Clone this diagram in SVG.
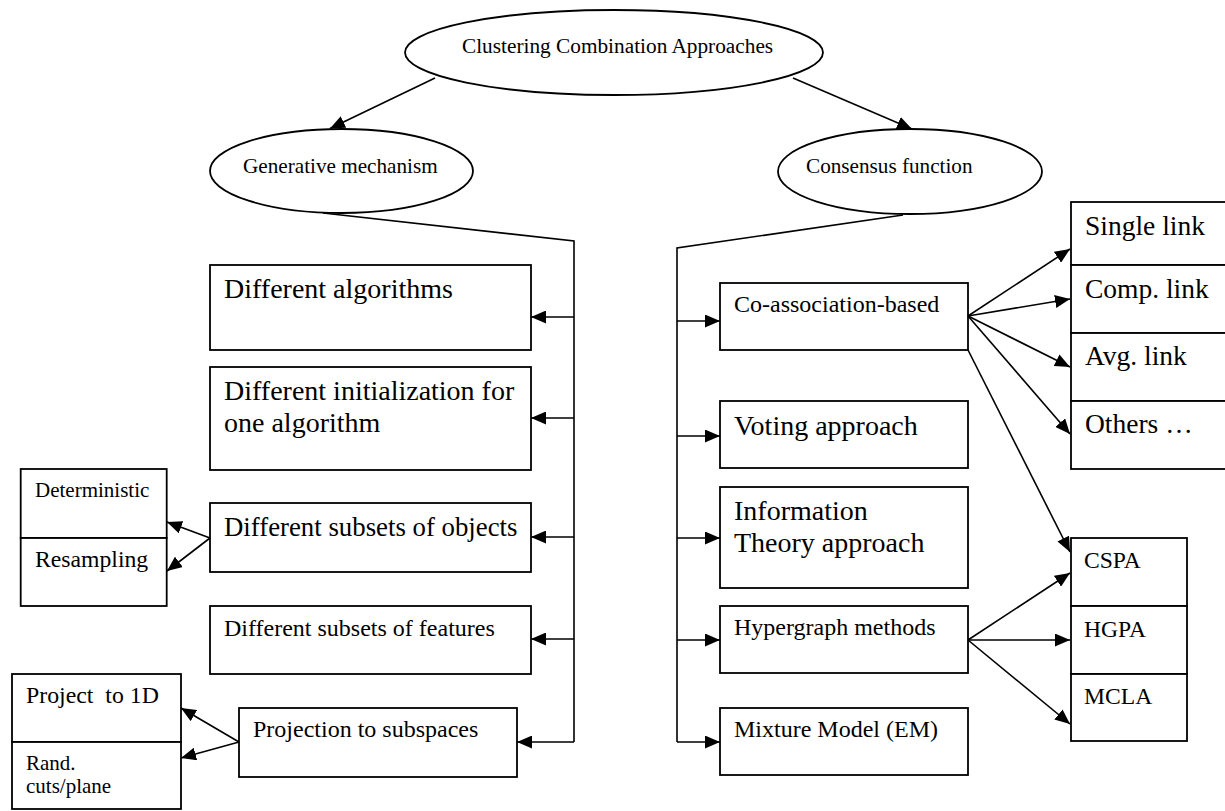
<svg xmlns="http://www.w3.org/2000/svg" width="1225" height="811" viewBox="0 0 1225 811">
<style>
.box{fill:#fff;stroke:#000;stroke-width:1.8}
.ell{fill:#fff;stroke:#000;stroke-width:1.8}
.ln{fill:none;stroke:#000;stroke-width:1.6}
.t{font-family:"Liberation Serif","Times New Roman",serif;fill:#000}
</style>
<defs>
<marker id="ah" markerUnits="userSpaceOnUse" markerWidth="15" markerHeight="13" refX="15" refY="6.5" orient="auto">
<path d="M0,0 L15,6.5 L0,13 z" fill="#000"/>
</marker>
</defs>
<rect width="1225" height="811" fill="#fff"/>

<g id="root">
<ellipse class="ell" cx="614" cy="52.5" rx="209" ry="42.5"/>
<text class="t" x="462" y="53" font-size="21.3">Clustering Combination Approaches</text>
</g>
<g id="generative">
<ellipse class="ell" cx="341.5" cy="171" rx="131.5" ry="42"/>
<text class="t" x="243" y="173" font-size="21.2">Generative mechanism</text>
</g>
<g id="consensus">
<ellipse class="ell" cx="910" cy="171.5" rx="132" ry="42.5"/>
<text class="t" x="806" y="173" font-size="21.2">Consensus function</text>
</g>

<g id="diff-algorithms">
<rect class="box" x="210" y="265" width="321" height="85"/>
<text class="t" x="224" y="298" font-size="28">Different algorithms</text>
</g>
<g id="diff-init">
<rect class="box" x="210" y="367" width="321" height="103"/>
<text class="t" x="224" y="400" font-size="28">Different initialization for</text>
<text class="t" x="224" y="432" font-size="28">one algorithm</text>
</g>
<g id="diff-objects">
<rect class="box" x="210" y="503" width="321" height="69"/>
<text class="t" x="224" y="536" font-size="26.8">Different subsets of objects</text>
</g>
<g id="diff-features">
<rect class="box" x="210" y="606" width="321" height="68"/>
<text class="t" x="224" y="636" font-size="24">Different subsets of features</text>
</g>
<g id="projection">
<rect class="box" x="239" y="708" width="278" height="69"/>
<text class="t" x="253" y="737" font-size="24">Projection to subspaces</text>
</g>
<g id="deterministic">
<rect class="box" x="20.7" y="469" width="146" height="69"/>
<text class="t" x="35" y="497" font-size="21">Deterministic</text>
</g>
<g id="resampling">
<rect class="box" x="20.7" y="538" width="146" height="68"/>
<text class="t" x="35" y="567" font-size="23.7">Resampling</text>
</g>
<g id="project1d">
<rect class="box" x="12" y="674" width="169" height="68"/>
<text class="t" x="26" y="703" font-size="23.8" xml:space="preserve">Project  to 1D</text>
</g>
<g id="randcuts">
<rect class="box" x="12" y="742" width="169" height="67"/>
<text class="t" x="26" y="770" font-size="21">Rand.</text>
<text class="t" x="26" y="793" font-size="21">cuts/plane</text>
</g>

<g id="coassoc">
<rect class="box" x="720" y="283" width="248" height="67"/>
<text class="t" x="734" y="312" font-size="24">Co-association-based</text>
</g>
<g id="voting">
<rect class="box" x="720" y="401" width="248" height="67"/>
<text class="t" x="734" y="435" font-size="28">Voting approach</text>
</g>
<g id="information">
<rect class="box" x="720" y="487" width="248" height="101"/>
<text class="t" x="734" y="520" font-size="28">Information</text>
<text class="t" x="734" y="552" font-size="28">Theory approach</text>
</g>
<g id="hypergraph">
<rect class="box" x="720" y="606" width="248" height="67"/>
<text class="t" x="734" y="635" font-size="24">Hypergraph methods</text>
</g>
<g id="mixture">
<rect class="box" x="720" y="708" width="248" height="67"/>
<text class="t" x="734" y="737" font-size="24">Mixture Model (EM)</text>
</g>

<g id="single">
<rect class="box" x="1071" y="202" width="160" height="63"/>
<text class="t" x="1085" y="235" font-size="27.5">Single link</text>
</g>
<g id="comp">
<rect class="box" x="1071" y="265" width="160" height="68"/>
<text class="t" x="1085" y="298" font-size="27.5">Comp. link</text>
</g>
<g id="avg">
<rect class="box" x="1071" y="333" width="160" height="68"/>
<text class="t" x="1085" y="365" font-size="27.5">Avg. link</text>
</g>
<g id="others">
<rect class="box" x="1071" y="401" width="160" height="68"/>
<text class="t" x="1085" y="433" font-size="27.5">Others …</text>
</g>
<g id="cspa">
<rect class="box" x="1071" y="538" width="116" height="68"/>
<text class="t" x="1084" y="568" font-size="23.6">CSPA</text>
</g>
<g id="hgpa">
<rect class="box" x="1071" y="606" width="116" height="68"/>
<text class="t" x="1084" y="637" font-size="23.6">HGPA</text>
</g>
<g id="mcla">
<rect class="box" x="1071" y="674" width="116" height="67"/>
<text class="t" x="1084" y="704" font-size="23.6">MCLA</text>
</g>

<g id="connectors">
<line class="ln" x1="435" y1="78" x2="330" y2="128.5" marker-end="url(#ah)"/>
<line class="ln" x1="793" y1="78" x2="912" y2="129" marker-end="url(#ah)"/>

<polyline class="ln" points="323,213 574,241 574,742"/>
<line class="ln" x1="574" y1="317" x2="531" y2="317" marker-end="url(#ah)"/>
<line class="ln" x1="574" y1="418" x2="531" y2="418" marker-end="url(#ah)"/>
<line class="ln" x1="574" y1="537" x2="531" y2="537" marker-end="url(#ah)"/>
<line class="ln" x1="574" y1="639" x2="531" y2="639" marker-end="url(#ah)"/>
<line class="ln" x1="574" y1="742" x2="517" y2="742" marker-end="url(#ah)"/>

<line class="ln" x1="210" y1="538" x2="167" y2="522" marker-end="url(#ah)"/>
<line class="ln" x1="210" y1="538" x2="167" y2="571" marker-end="url(#ah)"/>
<line class="ln" x1="239" y1="742" x2="181" y2="708" marker-end="url(#ah)"/>
<line class="ln" x1="239" y1="742" x2="181" y2="758" marker-end="url(#ah)"/>

<polyline class="ln" points="903,215 677,248 677,742"/>
<line class="ln" x1="677" y1="321" x2="720" y2="321" marker-end="url(#ah)"/>
<line class="ln" x1="677" y1="436" x2="720" y2="436" marker-end="url(#ah)"/>
<line class="ln" x1="677" y1="538" x2="720" y2="538" marker-end="url(#ah)"/>
<line class="ln" x1="677" y1="640" x2="720" y2="640" marker-end="url(#ah)"/>
<line class="ln" x1="677" y1="742" x2="720" y2="742" marker-end="url(#ah)"/>

<line class="ln" x1="968" y1="316" x2="1070" y2="249" marker-end="url(#ah)"/>
<line class="ln" x1="968" y1="316" x2="1070" y2="299" marker-end="url(#ah)"/>
<line class="ln" x1="968" y1="316" x2="1070" y2="367" marker-end="url(#ah)"/>
<line class="ln" x1="968" y1="316" x2="1070" y2="434" marker-end="url(#ah)"/>
<line class="ln" x1="968" y1="350" x2="1070" y2="552" marker-end="url(#ah)"/>

<line class="ln" x1="968" y1="640" x2="1070" y2="573" marker-end="url(#ah)"/>
<line class="ln" x1="968" y1="640" x2="1070" y2="640" marker-end="url(#ah)"/>
<line class="ln" x1="968" y1="640" x2="1070" y2="724" marker-end="url(#ah)"/>
</g>
</svg>
